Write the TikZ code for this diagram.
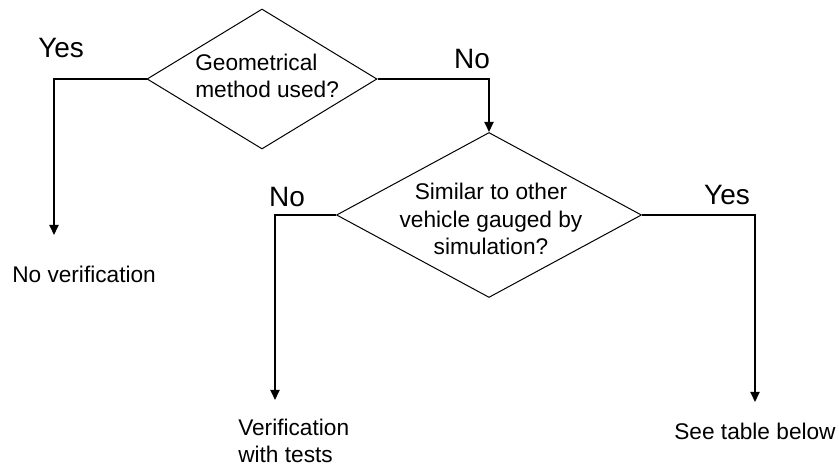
\documentclass[tikz,border=0pt]{standalone}
\usepackage{fontspec}
\setmainfont{Liberation Sans}
\usetikzlibrary{shapes.geometric,arrows.meta}
\newlength{\du}
\setlength{\du}{0.75pt}
\definecolor{dialinecolor}{rgb}{0.000000, 0.000000, 0.000000}
\tikzset{
  decision/.style={diamond, draw=dialinecolor, inner sep=0pt, line width=0.75pt},
  qtext/.style={inner sep=0pt, text=dialinecolor, font=\fontsize{17}{20.5}\selectfont},
  answer/.style={inner sep=0pt, text=dialinecolor, font=\fontsize{21}{24}\selectfont},
  flow/.style={draw=dialinecolor, line width=1.5pt, -{Triangle[length=7.5pt,width=6.75pt]}}
}

\begin{document}
\begin{tikzpicture}
\pgftransformxscale{1.000000}
\pgftransformyscale{-1.000000}
\useasboundingbox (0\du,0\du) rectangle (839\du,466\du);
% first question
\node[decision, minimum width=230\du, minimum height=140\du] (geo) at (262\du,79\du) {};
\node[qtext, anchor=west, align=left] (geotext) at (195\du,76\du) {Geometrical\\method used?};
% second question
\node[decision, minimum width=305\du, minimum height=165\du] (sim) at (489\du,215\du) {};
\node[qtext, align=center] (simtext) at (491\du,219\du) {Similar to other\\vehicle gauged by\\simulation?};
% yes / no labels
\node[answer, anchor=west] (geoyes) at (38\du,48\du) {Yes};
\node[answer] (geono) at (472\du,59\du) {No};
\node[answer] (simno) at (287\du,197\du) {No};
\node[answer] (simyes) at (727\du,195\du) {Yes};
% outcomes
\node[qtext, anchor=west] (nover) at (12\du,274\du) {No verification};
\node[qtext, anchor=west, align=left] (tests) at (238\du,441\du) {Verification\\with tests};
\node[qtext] (table) at (755\du,431\du) {See table below};
\coordinate (noverTip) at (54\du,235\du);
\coordinate (testsTip) at (275\du,400\du);
\coordinate (tableTip) at (755\du,402\du);
% connectors
\draw[flow] (geo.west) -| (noverTip);
\draw[flow] (geo.east) -| (sim.north);
\draw[flow] (sim.west) -| (testsTip);
\draw[flow] (sim.east) -| (tableTip);
\end{tikzpicture}
\end{document}
